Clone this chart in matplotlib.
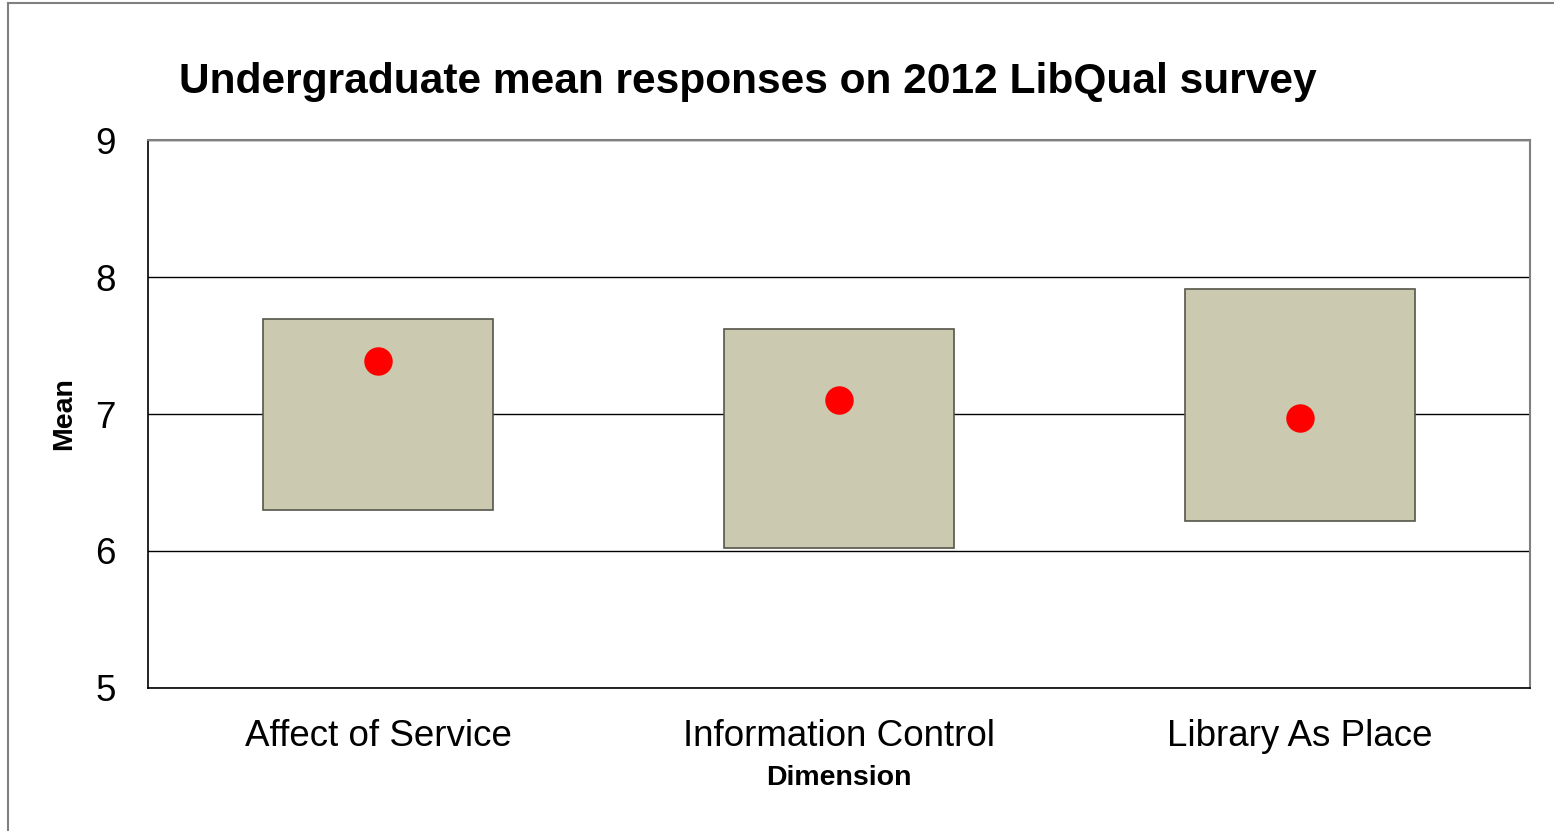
import matplotlib
matplotlib.use("Agg")
import matplotlib.pyplot as plt
from matplotlib.patches import Rectangle
from matplotlib.lines import Line2D

plt.rcParams["font.family"] = ["Liberation Sans", "DejaVu Sans"]

# -------- Data ----------
dimensions = ["Affect of Service", "Information Control", "Library As Place"]
minimum = [6.30, 6.02, 6.22]
desired = [7.69, 7.62, 7.91]
perceived = [7.39, 7.10, 6.97]

BOX_COLOR = "#CBC9B0"
BOX_WIDTH = 0.5

fig = plt.figure(figsize=(15.54, 8.31), dpi=100)
ax = fig.add_axes([0.0952, 0.1721, 0.8894, 0.6594])

# outer frame (only left/top visible in the reference)
fig.add_artist(Line2D([8 / 1554, 8 / 1554], [0, 1 - 3 / 831], transform=fig.transFigure,
                      color="#808080", lw=1.5))
fig.add_artist(Line2D([8 / 1554, 1], [1 - 3 / 831, 1 - 3 / 831], transform=fig.transFigure,
                      color="#808080", lw=1.5))

for i, (lo, hi) in enumerate(zip(minimum, desired)):
    ax.add_patch(Rectangle((i - BOX_WIDTH / 2, lo), BOX_WIDTH, hi - lo,
                           facecolor=BOX_COLOR, edgecolor="#55554a", lw=1.2, zorder=2))

ax.scatter(range(len(dimensions)), perceived, s=420, color="red", zorder=3, linewidths=0)

ax.set_xlim(-0.5, len(dimensions) - 0.5)
ax.set_ylim(5, 9)
ax.set_yticks([5, 6, 7, 8, 9])
ax.set_xticks(range(len(dimensions)))
ax.set_xticklabels(dimensions)
ax.tick_params(axis="both", length=0, labelsize=26.5)
ax.tick_params(axis="x", pad=22)
ax.tick_params(axis="y", pad=23)
ax.grid(axis="y", color="black", lw=1, zorder=1)
ax.set_axisbelow(True)

for side in ["top", "right"]:
    ax.spines[side].set_color("#808080")
    ax.spines[side].set_linewidth(1.5)
for side in ["left", "bottom"]:
    ax.spines[side].set_color("black")
    ax.spines[side].set_linewidth(1.2)

ax.set_xlabel("Dimension", fontsize=20.5, fontweight="bold", labelpad=8)
ax.set_ylabel("Mean", fontsize=20.5, fontweight="bold", labelpad=13)

fig.text(0.115, 0.901, "Undergraduate mean responses on 2012 LibQual survey",
         fontsize=30.6, fontweight="bold", ha="left", va="center")

fig.savefig("out.png", dpi=100)
plt.close(fig)
